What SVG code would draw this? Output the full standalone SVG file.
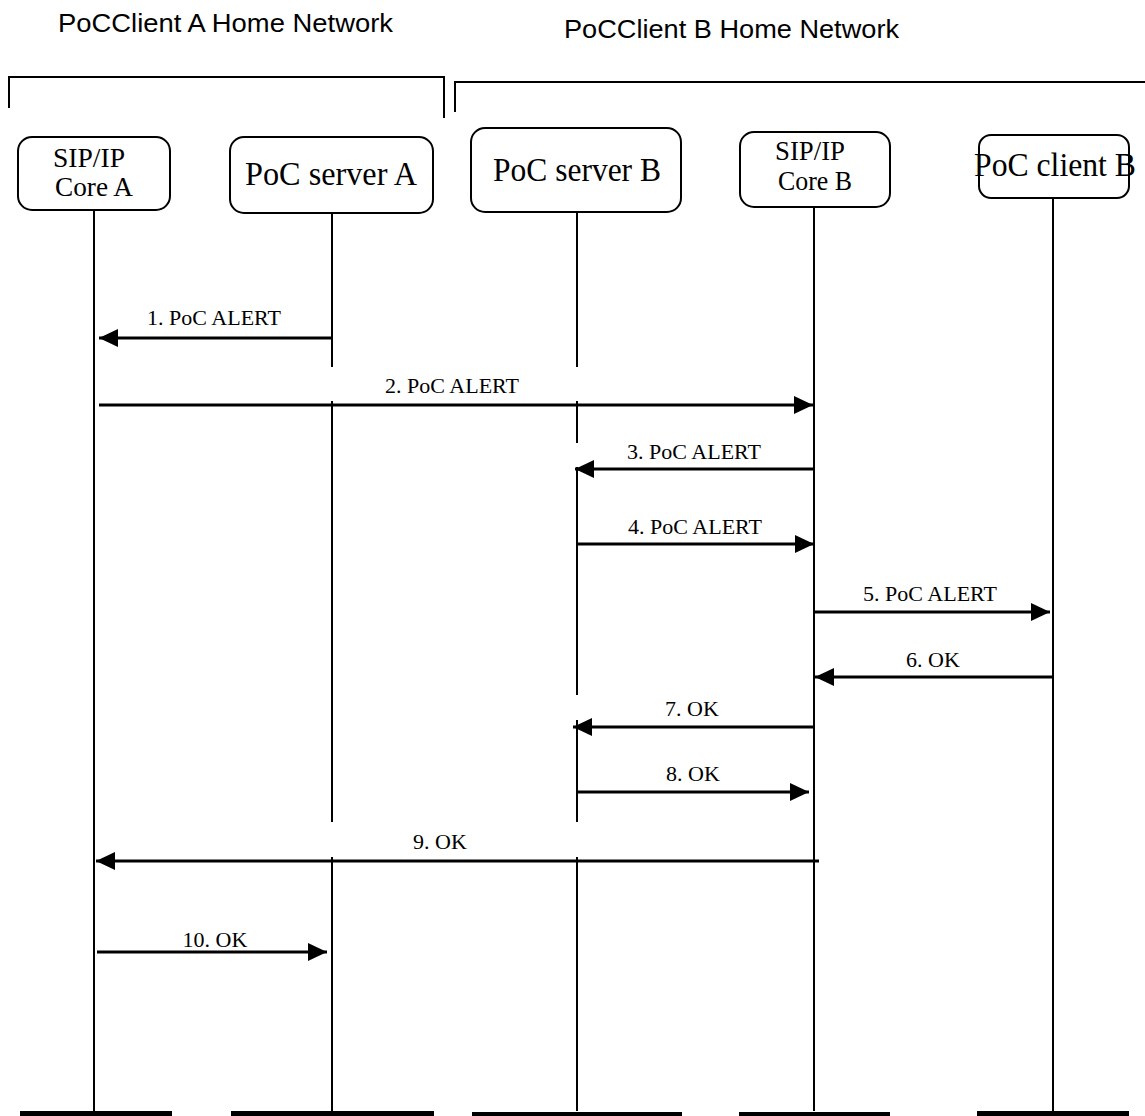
<svg xmlns="http://www.w3.org/2000/svg" width="1145" height="1116" viewBox="0 0 1145 1116">
<style>
.title{font-family:"Liberation Sans",Arial,sans-serif;font-size:25px;fill:#000}
.node rect{fill:#fff;stroke:#000;stroke-width:2}
.nt{font-family:"Liberation Serif","Times New Roman",serif;fill:#000;text-anchor:middle}
.big{font-size:34px}
.sm{font-size:27px}
.lab{font-family:"Liberation Serif","Times New Roman",serif;font-size:22px;fill:#000;text-anchor:middle}
.life{stroke:#000;stroke-width:2;fill:none}
.msg{stroke:#000;stroke-width:3;fill:none;marker-end:url(#ah)}
.br{stroke:#000;stroke-width:2;fill:none}
.bar{fill:#000}
</style>
<defs>
<marker id="ah" markerUnits="userSpaceOnUse" markerWidth="20" markerHeight="18" refX="19" refY="9" orient="auto">
<path d="M0,0 L19,9 L0,18 Z" fill="#000"/>
</marker>
</defs>
<rect width="1145" height="1116" fill="#fff"/>

<g id="network-a">
<text class="title" x="58" y="32" textLength="335" lengthAdjust="spacingAndGlyphs">PoCClient A Home Network</text>
<polyline class="br" points="9,108 9,77 444,77 444,118"/>
</g>
<g id="network-b">
<text class="title" x="564" y="38" textLength="335" lengthAdjust="spacingAndGlyphs">PoCClient B Home Network</text>
<polyline class="br" points="455,112 455,82 1145,82"/>
</g>

<g id="lifelines">
<line class="life" x1="94" y1="210" x2="94" y2="1111"/>
<path class="life" d="M332,213 V367 M332,401 V822 M332,857 V1111"/>
<path class="life" d="M577,212 V367 M577,401 V443 M577,467 V695 M577,720 V822 M577,857 V1111"/>
<line class="life" x1="814" y1="207" x2="814" y2="1111"/>
<line class="life" x1="1053" y1="198" x2="1053" y2="1111"/>
<rect class="bar" x="20" y="1111" width="152" height="5"/>
<rect class="bar" x="231" y="1111" width="203" height="5"/>
<rect class="bar" x="472" y="1112" width="210" height="4"/>
<rect class="bar" x="739" y="1112" width="151" height="4"/>
<rect class="bar" x="977" y="1111" width="152" height="5"/>
</g>

<g id="node-sipcore-a" class="node">
<rect x="18" y="137" width="152" height="73" rx="14"/>
<text class="nt sm" x="89" y="167" textLength="72" lengthAdjust="spacingAndGlyphs">SIP/IP</text>
<text class="nt sm" x="94" y="196" textLength="78" lengthAdjust="spacingAndGlyphs">Core A</text>
</g>
<g id="node-server-a" class="node">
<rect x="230" y="137" width="203" height="76" rx="14"/>
<text class="nt big" x="331" y="185" textLength="172" lengthAdjust="spacingAndGlyphs">PoC server A</text>
</g>
<g id="node-server-b" class="node">
<rect x="471" y="128" width="210" height="84" rx="14"/>
<text class="nt big" x="577" y="181" textLength="168" lengthAdjust="spacingAndGlyphs">PoC server B</text>
</g>
<g id="node-sipcore-b" class="node">
<rect x="740" y="132" width="150" height="75" rx="14"/>
<text class="nt sm" x="810" y="160" textLength="70" lengthAdjust="spacingAndGlyphs">SIP/IP</text>
<text class="nt sm" x="815" y="190" textLength="74" lengthAdjust="spacingAndGlyphs">Core B</text>
</g>
<g id="node-client-b" class="node">
<rect x="979" y="135" width="150" height="63" rx="12"/>
<text class="nt big" x="1055" y="176" textLength="162" lengthAdjust="spacingAndGlyphs">PoC client B</text>
</g>

<g id="connectors">
<line class="msg" x1="331" y1="338" x2="99" y2="338"/>
<text class="lab" x="214" y="325">1. PoC ALERT</text>
<line class="msg" x1="99" y1="405" x2="813" y2="405"/>
<text class="lab" x="452" y="393">2. PoC ALERT</text>
<line class="msg" x1="815" y1="469" x2="575" y2="469"/>
<text class="lab" x="694" y="459">3. PoC ALERT</text>
<line class="msg" x1="577" y1="544" x2="814" y2="544"/>
<text class="lab" x="695" y="534">4. PoC ALERT</text>
<line class="msg" x1="814" y1="612" x2="1050" y2="612"/>
<text class="lab" x="930" y="601">5. PoC ALERT</text>
<line class="msg" x1="1054" y1="677" x2="815" y2="677"/>
<text class="lab" x="933" y="667">6. OK</text>
<line class="msg" x1="814" y1="727" x2="573" y2="727"/>
<text class="lab" x="692" y="716">7. OK</text>
<line class="msg" x1="577" y1="792" x2="809" y2="792"/>
<text class="lab" x="693" y="781">8. OK</text>
<line class="msg" x1="819" y1="861" x2="96" y2="861"/>
<text class="lab" x="440" y="849">9. OK</text>
<line class="msg" x1="97" y1="952" x2="327" y2="952"/>
<text class="lab" x="215" y="947">10. OK</text>
</g>
</svg>
